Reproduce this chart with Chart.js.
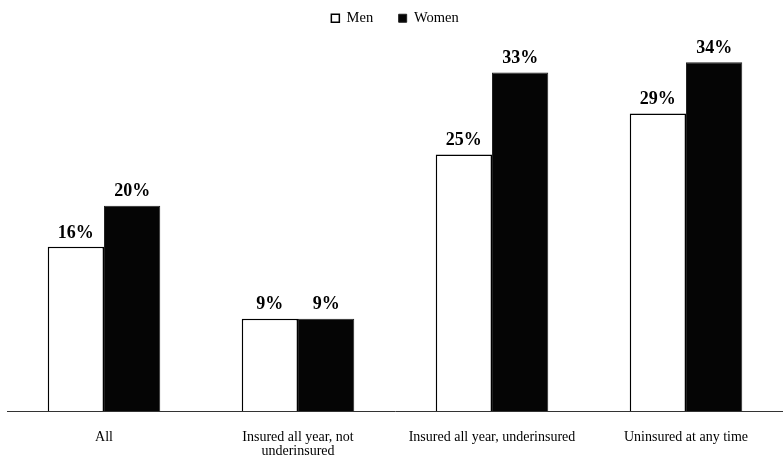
<!DOCTYPE html>
<html>
<head>
<meta charset="utf-8">
<script src="https://cdn.jsdelivr.net/npm/chart.js@4"></script>
<style>
  html, body { margin: 0; padding: 0; background: #fff; }
  #wrap { width: 783px; height: 456px; }
</style>
</head>
<body>
<div id="wrap"><canvas id="myChart"></canvas></div>
<script>
    const categories = ['All', ['Insured all year, not', 'underinsured'], 'Insured all year, underinsured', 'Uninsured at any time'];
    const men = [16, 9, 25, 29];
    const women = [20, 9, 33, 34];

    // etiquetas de valor encima de cada barra
    const valueLabels = {
        id: 'valueLabels',
        afterDatasetsDraw(chart) {
            const ctx = chart.ctx;
            ctx.save();
            ctx.font = 'bold 18px "Liberation Serif", serif';
            ctx.fillStyle = '#000';
            ctx.textAlign = 'center';
            ctx.textBaseline = 'bottom';
            chart.data.datasets.forEach((ds, i) => {
                chart.getDatasetMeta(i).data.forEach((bar, j) => {
                    ctx.fillText(ds.data[j] + '%', bar.x, bar.y - 5);
                });
            });
            ctx.restore();
        }
    };

    const data = {
        labels: categories,
        datasets: [{
            label: 'Men',
            data: men,
            backgroundColor: '#fff',
            borderColor: '#000',
            borderWidth: 1.5
        }, {
            label: 'Women',
            data: women,
            backgroundColor: '#050505',
            borderColor: '#222',
            borderWidth: 1
        }]
    };

    const config = {
        type: 'bar',
        data: data,
        options: {
            responsive: true,
            maintainAspectRatio: false,
            animation: false,
            layout: { padding: { left: 7, right: 0, top: 0, bottom: 0 } },
            categoryPercentage: 0.58,
            barPercentage: 1,
            plugins: {
                legend: {
                    labels: {
                        boxWidth: 8,
                        boxHeight: 8,
                        padding: 11,
                        color: '#000',
                        font: { family: '"Liberation Serif", serif', size: 14.5 },
                        generateLabels(chart) {
                            const items = Chart.defaults.plugins.legend.labels.generateLabels(chart);
                            items[0].text = 'Men    ';
                            return items;
                        }
                    }
                },
                tooltip: { enabled: false }
            },
            scales: {
                x: {
                    grid: { display: false, drawTicks: false },
                    border: { display: true, color: '#333', width: 1 },
                    ticks: {
                        color: '#000',
                        padding: 19,
                        maxRotation: 0,
                        autoSkip: false,
                        font: { family: '"Liberation Serif", serif', size: 14, lineHeight: 1 }
                    },
                    afterFit(scale) {
                        scale.height = 45;
                    }
                },
                y: {
                    display: false,
                    min: 0,
                    max: 36.6
                }
            }
        },
        plugins: [valueLabels]
    };

    const myChart = new Chart(document.getElementById('myChart'), config);
</script>
</body>
</html>
